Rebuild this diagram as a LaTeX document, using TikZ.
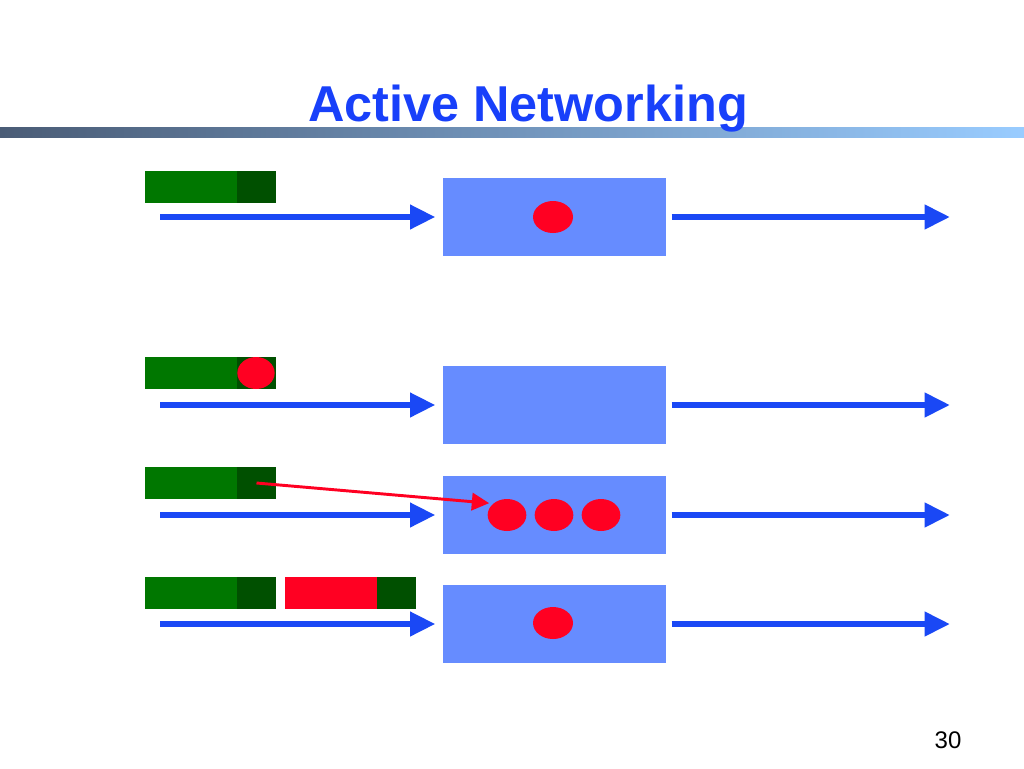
\documentclass[tikz,border=0pt]{standalone}
\usepackage{fontspec}
\setmainfont{Liberation Sans}
\usetikzlibrary{arrows.meta,shapes.geometric}
\definecolor{titleblue}{RGB}{24,64,250}
\definecolor{boxblue}{RGB}{102,140,255}
\definecolor{arrowblue}{RGB}{26,72,245}
\definecolor{lgreen}{RGB}{0,119,0}
\definecolor{dgreen}{RGB}{0,80,0}
\definecolor{dotred}{RGB}{255,0,34}
\definecolor{barleft}{RGB}{74,92,118}
\definecolor{barright}{RGB}{153,204,255}
\begin{document}
\begin{tikzpicture}[x=0.75pt,y=-0.75pt,
  router/.style={fill=boxblue, draw=none, inner sep=0pt, minimum width=167.25pt, minimum height=58.5pt},
  lightpart/.style={fill=lgreen, draw=none, inner sep=0pt, minimum width=69pt, minimum height=24pt},
  darkpart/.style={fill=dgreen, draw=none, inner sep=0pt, minimum width=29.25pt, minimum height=24pt},
  redpart/.style={fill=dotred, draw=none, inner sep=0pt, minimum width=69pt, minimum height=24pt},
  dot/.style={ellipse, fill=dotred, draw=none, inner sep=0pt, minimum width=30pt, minimum height=24pt},
  flow/.style={draw=arrowblue, line width=4.5pt, -{Triangle[length=19pt,width=17.5pt]}},
  code/.style={draw=dotred, line width=2.2pt, -{Triangle[length=13pt,width=13pt]}}
]
\useasboundingbox (0,0) rectangle (1024,768);
% rule and title
\path[left color=barleft, right color=barright] (0,127) rectangle (1024,137);
\node[anchor=base, text=titleblue, font=\fontsize{37.8}{45}\selectfont\bfseries, inner sep=0pt] (title) at (528,121) {Active Networking};
\node[anchor=base, font=\fontsize{18}{22}\selectfont, inner sep=0pt] (pageno) at (948,748) {30};

% row 1
\node[lightpart] (l1) at (191,187) {};
\node[darkpart] (d1) at (256.5,187) {};
\node[router] (r1) at (554.5,217) {};
\node[dot] (dot1) at (553,217) {};
\coordinate (s1) at (160,217);
\coordinate (e1) at (950,217);
\draw[flow, shorten >=5.5pt] (s1) -- (r1.west |- s1);
\draw[flow, shorten <=4pt] (r1.east |- e1) -- (e1);

% row 2
\node[lightpart] (l2) at (191,373) {};
\node[darkpart] (d2) at (256.5,373) {};
\node[dot, minimum width=28pt] (dot2) at (256,373) {};
\node[router] (r2) at (554.5,405) {};
\coordinate (s2) at (160,405);
\coordinate (e2) at (950,405);
\draw[flow, shorten >=5.5pt] (s2) -- (r2.west |- s2);
\draw[flow, shorten <=4pt] (r2.east |- e2) -- (e2);

% row 3
\node[lightpart] (l3) at (191,483) {};
\node[darkpart] (d3) at (256.5,483) {};
\node[router] (r3) at (554.5,514.5) {};
\node[dot, minimum width=29pt] (dot3a) at (507,515) {};
\node[dot, minimum width=29pt] (dot3b) at (554,515) {};
\node[dot, minimum width=29pt] (dot3c) at (601,515) {};
\coordinate (s3) at (160,515);
\coordinate (e3) at (950,515);
\draw[flow, shorten >=5.5pt] (s3) -- (r3.west |- s3);
\draw[flow, shorten <=4pt] (r3.east |- e3) -- (e3);
\draw[code, shorten >=3pt] (d3.center) -- (dot3a.north west);

% row 4
\node[lightpart] (l4) at (191,593) {};
\node[darkpart] (d4) at (256.5,593) {};
\node[redpart] (rc4) at (331,593) {};
\node[darkpart] (d4b) at (396.5,593) {};
\node[router] (r4) at (554.5,623.5) {};
\node[dot] (dot4) at (553,623) {};
\coordinate (s4) at (160,624);
\coordinate (e4) at (950,624);
\draw[flow, shorten >=5.5pt] (s4) -- (r4.west |- s4);
\draw[flow, shorten <=4pt] (r4.east |- e4) -- (e4);
\end{tikzpicture}
\end{document}
